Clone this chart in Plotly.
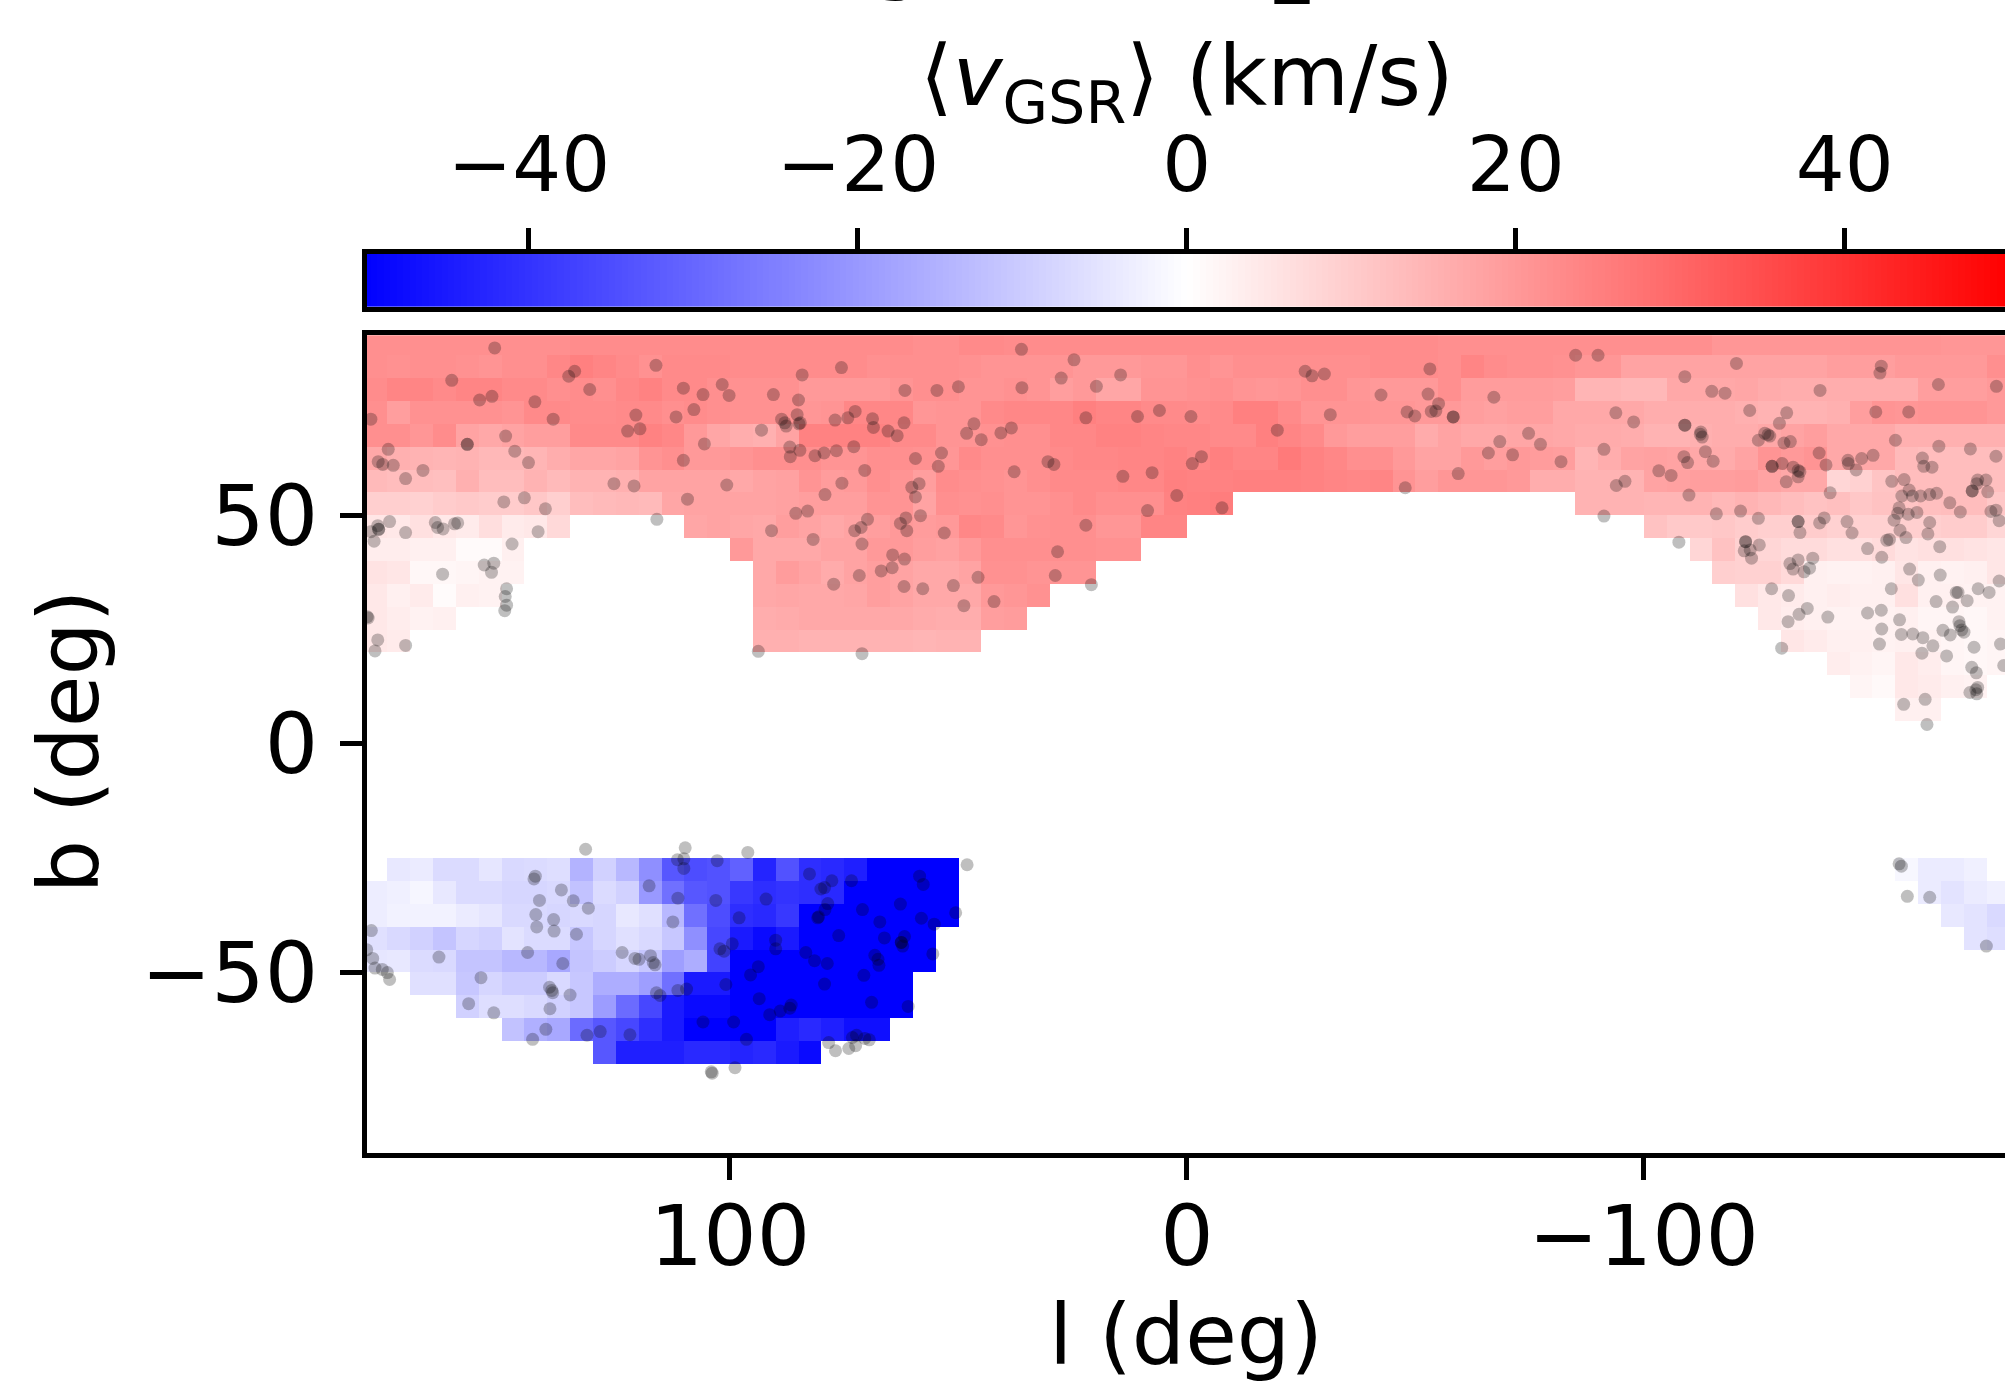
import plotly.graph_objects as go

_ = None
l_edges = [180 - 5 * i for i in range(73)]
b_edges = [-90 + 5 * i for i in range(37)]

# mean v_GSR per 5x5 deg cell; columns run from l=180 down to l=-180
r_p85 = [22,22,22,22,22,22,22,22,22,22.5,22.5,22.5,22.5,22.5,22.5,22.5,22.5,22.5,22.5,22.5,22.5,22.5,22.5,22.5,22,22,23,23,22.5,22.5,22.5,22.5,22.5,22.5,22.5,22.5,22.5,22.5,22.5,22.5,22.5,22.5,22.5,22.5,22.5,22.5,22.5,22,22,22,22,22,22,22,22,22,22,22,22,20.5,20.5,20.5,20.5,20.5,20.5,21,21,21,21,20.5,20.5,20.5]
r_p80 = [22,21.5,22,22,21.5,21,22,22,23.5,25,24,23,21.5,23,23,23,22.5,22.5,22.5,22.5,22.5,22.5,21.8,22,22,22,21.5,21,21,21,21,20,20,20,20.5,20.5,22,21,22,22,22,22,22,22,22.5,22.5,22.5,22,24,22.5,22,22,21.5,20.5,20.5,18,18,18,18,18,18,18,18,18,19,19,19,20,20,20,20,22]
r_p75 = [22.5,24,24,23,24,24,23,23,22,22.5,22,23.5,24.5,23,23,22,21.5,21.5,21.5,20,20,20,20,21,22,22,21,21,21.5,21,19,20,17.5,17.5,21,21,21.5,22,21,20.5,21,22,22,20.5,20,20,20,22,19.5,19.5,19.5,19.5,19,14.5,14.5,14,14,17,17,17,17.5,16.5,16,16,16,16,16,16,19,19,19,20]
r_p70 = [22,19,21.5,21.5,21.5,21.5,21,23,23,22.5,22.5,23,23,22,22.5,22,21.5,21.5,21.5,20.5,21,23.5,23.5,23.5,20.5,21,21,23,23.5,23.5,23.5,25,24,24,23,23,22.5,23,25,25,23,21,21,21,20.5,20.5,20,20,19,18.5,19,19,17,17,17,17,16,16,16,16,15.5,15,15,15,15.5,19,21,20.5,21,21,21,20]
r_p65 = [22,22,20.5,22.5,18,17,18,19,19,23,23,23,24.5,23.5,20,17.5,16,15.5,18,24.5,24.5,24.5,24.5,23,23,21,21,21.5,22,22,23.5,23.5,24.5,24.5,24,23.5,23.5,23,23,25,24,23,20,19,19,19,16.5,18,17,17,17.5,17.5,17,16.5,16.5,16,15,15,15.5,16,16,17,18,19,17,17,17,15.5,15.5,15.5,15.5,15.5]
r_p60 = [17,15.5,15,14.5,15,14,14,14.5,16,17.5,17.5,18,21,22,20,20,21,22,22,22,21,21,22,22,21.5,20.5,23,22,22,22,23,23.5,23.5,24,24,24.5,23.5,25,24,24,26,24.5,23.5,22,22,20,18,18,20,19,20,19.5,19,14.5,16,18,18.5,18,17,16.5,18,21,20,21,17,17,17,13.5,13,13,13,13]
r_p55 = [13.5,13,13,12.5,15.5,13,13,15,13.5,15,15,15.5,18,18,18,18,17,18,18.5,21,19.5,20,22,21,19,22.5,22,21.5,21,22,23,23,23,23.5,23.5,25,24.5,24.5,25,25,25,24.5,24,23.5,24,21,19,20.5,20.5,20.5,20,16,16,15,15,15,18,18.5,19,19,19.5,18,17,17,8,9,11.5,13,13,13,13,12.5]
r_p50 = [9.5,9.5,9,10,10.5,10,10,11,9.5,13,13.5,14,13.5,17.5,18,18,18,18,18.5,19,19,19,21,21,18,22,21.5,22,21,21,22,23,22,22,22,24.5,25,25.5,_,_,_,_,_,_,_,_,_,_,_,_,_,_,_,15,15,15,14.5,14.5,15,14,15,14,13,12,12.5,11,12,11.5,12.5,13,13,11]
r_p45 = [5,4.5,6,4.5,4,6.5,4,4.5,7.5,_,_,_,_,_,17.5,18,17.5,17,19,18,17,18,19,20,19.5,20,23.5,23,20.5,21.5,22,22,20.5,20.5,24,24,_,_,_,_,_,_,_,_,_,_,_,_,_,_,_,_,_,_,_,_,12,10.5,10.5,11,10,9.5,9.5,10,9,9,9,9.5,9.5,10,10,8]
r_p40 = [3.5,3.5,3,3,1,1,3,_,_,_,_,_,_,_,_,_,20,17,17,17,18,18,20,20,19,18.5,20,22,22,22,22,22,21.5,21.5,_,_,_,_,_,_,_,_,_,_,_,_,_,_,_,_,_,_,_,_,_,_,_,_,8,12,9,8,7,7,6,6,7,5.5,6,6,5.5,5]
r_p35 = [5.5,5,1.5,1.5,2,2.5,2.5,_,_,_,_,_,_,_,_,_,_,17,19.5,18,16.5,18,19,18,17,17,18,21.5,21.5,21,21,21,_,_,_,_,_,_,_,_,_,_,_,_,_,_,_,_,_,_,_,_,_,_,_,_,_,_,_,9.5,9,9,7.5,3,2.5,2.5,3,5,3,2.5,3,5]
r_p30 = [4.5,3,4,0.8,3,2.5,_,_,_,_,_,_,_,_,_,_,_,17,17.5,17,17,17.5,19,18,17,17,17,20,20.5,21.5,_,_,_,_,_,_,_,_,_,_,_,_,_,_,_,_,_,_,_,_,_,_,_,_,_,_,_,_,_,_,6,4.5,4,3,3.5,3,3,6,3,3,2.5,2.5]
r_p25 = [4.5,3.5,2.5,3,_,_,_,_,_,_,_,_,_,_,_,_,_,16,16.5,17,17,17,17,17,16.5,16,16,19,19.5,_,_,_,_,_,_,_,_,_,_,_,_,_,_,_,_,_,_,_,_,_,_,_,_,_,_,_,_,_,_,_,_,4.5,3.5,3,2.5,2.5,2.5,3,2,2,1.5,2.5]
r_p20 = [4.5,4,_,_,_,_,_,_,_,_,_,_,_,_,_,_,_,15.5,15.5,15,15,15,15,15,14.5,15,15,_,_,_,_,_,_,_,_,_,_,_,_,_,_,_,_,_,_,_,_,_,_,_,_,_,_,_,_,_,_,_,_,_,_,_,5,4,3,3,2.5,3,2.5,2,1.5,2]
r_p15 = [_]*64 + [3.5,2.5,2,4.5,3.5,2,1.5,2]
r_p10 = [_]*65 + [2,1.2,4.5,4,3,2.5,_]
r_p05 = [_]*67 + [3,3,_,_,_]
r_m30 = [_,-4.5,-4,-7,-7,-5,-7.5,-7,-6.5,-15,-9,-14,-22,-33,-35,-34,-31,-43,-34,-41,-42,-44,-50,-50,-50,-50]+[_]*41+[-1.5,-4,-4,-3,_]
r_m35 = [-3.5,-3,-1.8,-4.5,-7,-7,-8,-8,-7.5,-12,-7,-9,-20,-28,-33,-34,-39,-41,-40,-41,-42,-50,-50,-50,-50,-50]+[_]*42+[-4,-5.5,-4,-3]
r_m40 = [-3.5,-2.5,-2.5,-2.5,-4,-5,-7.5,-7.5,-8,-7.5,-8,-4.5,-6,-14,-28,-35,-41,-42,-39,-50,-50,-50,-50,-50,-50,-50]+[_]*43+[-4.5,-5.5,-7.5]
r_m45 = [-6,-7.5,-9,-11.5,-8,-9,-5.5,-7,-7,-11,-8,-6,-7.5,-11,-22,-36,-45,-48,-45,-50,-50,-50,-50,-50,-50]+[_]*45+[-5.5,-6.5]
r_m50 = [-5,-4.5,-7,-7.5,-11.5,-11.5,-14,-14,-17,-11.5,-10,-8,-11,-19,-16,-37,-50,-50,-50,-50,-50,-50,-50,-50,-50]+[_]*47
r_m55 = [_,_,-6,-6,-11,-8,-10,-10,-7.5,-11,-16,-16,-19,-28,-45,-45,-50,-50,-50,-50,-50,-50,-50,-50]+[_]*48
r_m60 = [_,_,_,_,-9,-6.5,-6.5,-7.5,-9,-11,-19.5,-29,-36,-45,-48,-48,-50,-50,-50,-50,-50,-50,-50,-50]+[_]*48
r_m65 = [_,_,_,_,_,_,-12,-15.5,-17,-29,-33,-36,-41,-45,-50,-50,-50,-50,-44,-42,-44,-47,-47]+[_]*49
r_m70 = [_]*10 + [-33,-44,-44,-44,-42,-42,-43,-42,-45,-48] + [_]*52
r_gap = [_]*72

z_rows = [r_gap, r_gap, r_gap, r_gap, r_m70, r_m65, r_m60, r_m55, r_m50, r_m45, r_m40, r_m35, r_m30,
          r_gap, r_gap, r_gap, r_gap, r_gap, r_gap,
          r_p05, r_p10, r_p15, r_p20, r_p25, r_p30, r_p35, r_p40, r_p45, r_p50, r_p55, r_p60, r_p65, r_p70, r_p75, r_p80, r_p85]

star_l = [151.5,116.2,134.0,135.3,160.9,130.7,110.2,105.9,101.7,100.2,90.5,84.2,75.6,85.0,152.1,154.8,142.7,107.9,120.6,111.8,85.3,72.6,74.2,77.0,68.8,178.6,138.7,88.7,87.7,88.0,84.9,84.6,119.7,122.4,93.1,68.6,65.4,63.4,149.1,157.5,157.5,105.6,174.8,147.1,86.9,84.7,86.8,81.4,79.4,76.7,72.9,110.2,177.0,176.0,173.7,144.1,167.2,70.5,171.0,125.4,121.0,100.7,75.5,79.2,145.0,149.5,109.3,140.4,85.6,83.0,69.9,174.5,177.1,176.9,176.9,178.6,171.0,164.5,164.0,162.8,160.3,159.6,116.0,142.0,90.9,72.7,71.3,81.8,177.9,147.7,71.1,64.4,153.8,151.7,152.2,162.9,66.9,64.5,71.7,77.3,148.9,149.2,148.9,149.3,179.4,179.2,177.1,171.0,177.7,93.8,71.1,
36.2,24.7,14.5,27.5,19.8,36.1,50.0,54.7,61.7,-25.9,-27.4,-30.1,-53.2,-42.5,-52.8,-55.1,-48.2,-49.9,-53.5,-54.5,-58.3,-58.3,6.0,10.8,-0.9,22.1,-31.4,61.9,46.6,48.2,45.0,40.7,38.4,-19.8,53.7,59.4,54.4,-3.2,-1.2,30.4,29.1,37.8,7.6,14.0,-59.4,58.6,60.2,59.4,2.2,-47.8,8.6,-7.7,58.3,61.5,62.7,61.3,53.1,22.1,28.3,61.8,45.7,28.8,51.1,57.8,61.9,20.9,42.2,48.8,
-85.1,-90.0,-120.3,-109.0,-152.0,-151.7,-164.5,-177.2,-67.2,-114.9,-117.8,-138.6,-93.9,-97.8,-123.2,-131.3,-129.7,-150.8,-158.0,-109.0,-109.0,-112.5,-112.8,-112.4,-74.8,-68.5,-77.4,-66.0,-71.3,-81.9,-91.3,-126.5,-127.6,-127.2,-125.1,-130.7,-132.1,-155.1,-164.6,-171.5,-177.1,-113.5,-115.2,-108.8,-109.6,-138.4,-139.9,-144.7,-144.8,-147.7,-150.2,-161.0,-161.3,-163.1,-146.5,-130.3,-128.1,-128.1,-132.7,-133.8,-134.2,-133.8,-131.2,-103.3,-106.0,-95.9,-94.0,-154.3,-157.0,-173.1,-174.9,-171.9,-171.9,-172.9,-175.3,-109.9,-140.8,-158.1,-156.5,-158.8,-160.6,-162.6,-164.1,-167.0,-169.3,-155.9,-155.6,-157.9,-159.8,-154.8,-162.6,-176.0,-177.1,-177.8,-115.9,-121.2,-125.1,-91.3,-133.8,-133.8,-134.2,-138.5,-139.5,-144.5,-145.6,-156.1,-157.4,-162.2,-164.8,-107.7,-122.3,-122.3,-125.3,-123.3,-122.0,-123.6,-153.8,-153.2,-149.0,-152.1,-133.8,-132.0,-137.0,-132.7,-135.1,-136.3,-158.2,-160.1,-164.9,-128.0,-131.7,-154.2,-177.8,-173.2,-175.6,-168.4,-168.8,-170.8,-164.0,-167.6,-135.8,-134.0,-131.6,-140.3,-149.0,-152.0,-156.0,-152.1,-165.5,-167.1,-169.0,-169.2,-169.6,-170.1,-156.4,-158.9,-161.1,-151.6,-163.3,-172.3,-178.1,-130.2,-160.9,-166.3,-178.8,-171.8,-172.8,-156.9,-161.6,-173.1,-172.7,-171.4,-172.9,-162.0,
131.6,109.8,96.1,111.5,110.1,110.1,102.8,48.1,82.6,142.6,142.9,77.7,73.4,58.5,57.7,117.7,136.9,79.3,80.1,92.1,141.7,134.3,111.4,103.1,131.0,78.6,79.2,62.7,71.0,142.5,138.6,98.0,80.6,80.8,67.2,58.1,50.6,55.3,112.5,142.3,178.5,138.5,133.6,76.2,66.2,61.8,90.0,62.5,62.5,62.2,99.5,102.2,101.3,90.0,179.5,144.3,123.6,178.2,163.7,120.8,119.9,117.4,116.8,116.4,83.4,81.5,78.7,136.6,68.3,67.6,67.4,55.6,93.8,177.7,176.1,175.0,174.5,154.5,95.5,70.7,139.5,139.0,138.8,100.9,79.3,116.1,115.3,111.4,109.5,135.0,93.6,69.0,157.2,61.0,139.4,151.7,91.3,89.0,86.6,86.9,105.9,99.2,140.3,128.4,131.3,121.9,96.4,143.2,78.4,76.9,74.0,72.5,69.5,72.3,73.2,70.5,98.9,104.1,103.9,
-155.9,-156.4,-157.7,-162.6,-175.0]

star_b = [86.6,82.8,81.5,80.4,79.5,77.5,77.8,76.4,78.6,76.2,76.4,80.7,82.3,75.2,76.0,75.2,74.8,73.1,71.9,71.5,72.0,72.7,71.3,70.8,71.1,71.0,71.0,71.0,69.5,70.2,70.0,70.2,68.9,68.4,68.6,69.2,68.4,67.4,67.3,65.5,65.5,65.6,64.4,64.0,64.9,64.2,62.8,63.0,63.6,64.1,65.0,62.0,61.7,61.1,60.9,61.5,59.8,59.8,58.0,56.9,56.4,56.6,57.0,54.5,53.8,52.9,53.5,51.4,50.4,50.9,49.1,48.6,47.7,46.9,46.9,46.4,46.2,48.4,47.3,47.0,48.1,48.3,49.1,46.4,46.6,46.6,47.3,44.7,44.3,43.7,43.7,41.3,39.1,39.5,37.5,37.1,37.8,38.5,36.8,34.9,33.9,32.2,30.3,29.1,27.8,27.5,22.7,21.5,20.3,20.2,19.7,
86.3,84.0,80.7,80.0,78.2,77.9,78.1,77.3,77.3,81.5,80.5,80.9,82.0,76.3,76.5,74.4,72.6,71.7,72.7,72.8,71.5,71.5,72.9,71.6,71.6,71.3,72.0,70.2,70.0,67.9,66.5,68.0,69.1,68.6,63.6,62.4,60.7,62.8,61.3,61.7,61.1,59.5,59.3,58.5,59.1,56.9,56.1,54.0,54.3,56.0,51.0,51.6,49.9,49.4,48.2,46.6,46.1,47.8,42.0,40.4,36.4,36.8,34.6,33.9,34.4,34.8,31.1,30.2,
85.0,85.0,83.2,80.3,82.6,81.1,78.6,78.2,75.8,77.1,76.7,77.3,72.4,70.4,72.9,72.4,70.1,72.6,72.6,69.7,69.7,68.2,67.1,67.7,67.9,66.1,65.5,63.6,63.2,61.7,64.4,67.9,67.3,67.6,66.4,65.8,66.1,66.4,65.1,64.5,62.9,63.9,61.8,62.8,61.5,63.6,61.0,62.0,61.3,62.4,63.1,62.5,60.7,60.5,59.9,61.3,60.7,60.7,60.5,59.8,59.5,58.4,57.3,59.7,58.7,57.4,56.5,57.4,57.8,57.7,57.7,55.3,55.3,56.9,55.1,54.4,54.9,55.5,54.2,54.2,54.2,54.5,54.8,52.7,50.7,51.6,50.4,50.2,50.6,48.9,48.4,50.8,51.1,48.8,50.3,50.9,49.3,49.8,48.6,48.6,46.2,48.3,49.4,48.6,46.1,46.7,45.1,45.9,43.1,44.1,44.2,44.2,43.5,42.4,42.2,40.6,44.7,44.5,42.7,40.8,40.2,39.4,40.6,38.2,37.6,38.4,38.2,35.8,36.9,33.9,32.4,33.9,35.6,33.9,33.1,33.1,33.1,31.3,31.1,29.9,29.6,28.3,26.7,27.7,28.6,29.2,27.1,25.1,24.8,23.8,26.7,25.8,24.9,24.4,23.9,24.0,23.2,21.8,21.4,21.1,21.8,20.9,19.8,19.2,17.1,16.7,15.5,8.6,9.7,12.3,11.8,11.2,10.9,4.2,
-23.1,-22.8,-23.8,-25.4,-25.2,-27.3,-25.6,-26.5,-28.5,-29.0,-29.6,-30.0,-30.0,-29.0,-30.8,-31.1,-32.0,-31.5,-31.8,-34.0,-34.3,-34.4,-33.8,-34.3,-36.0,-35.0,-36.3,-35.1,-36.3,-37.4,-38.5,-38.1,-37.9,-38.1,-39.0,-38.2,-37.0,-39.5,-39.0,-40.1,-40.9,-41.0,-41.7,-42.0,-42.5,-42.2,-43.0,-43.5,-43.5,-44.3,-43.8,-44.9,-45.4,-44.9,-45.1,-45.7,-45.7,-47.0,-46.7,-47.0,-47.2,-46.4,-47.9,-48.4,-45.7,-47.5,-48.1,-48.1,-46.3,-47.2,-48.5,-46.0,-48.8,-49.1,-49.4,-50.1,-51.6,-51.2,-50.6,-50.7,-53.3,-54.0,-54.5,-52.7,-52.6,-54.5,-55.1,-54.0,-53.7,-55.0,-55.8,-56.6,-56.9,-57.5,-58.0,-58.9,-59.3,-58.5,-57.2,-57.9,-60.9,-60.9,-62.5,-63.0,-63.8,-63.7,-64.7,-64.7,-65.4,-67.2,-66.7,-66.1,-64.8,-63.8,-64.3,-64.5,-70.9,-71.8,-72.1,
-26.3,-26.8,-33.4,-33.6,-44.3]

x_ticks = [100, 0, -100]
y_ticks = [50, 0, -50]
cbar_ticks = [-40, -20, 0, 20, 40]
cbar_edges = [-50 + i * 100 / 256 for i in range(257)]
cbar_vals = [-50 + (i + 0.5) * 100 / 256 for i in range(256)]
FONT = "DejaVu Sans"
INK = "#000000"
BWR = [[0, "#0000ff"], [0.5, "#ffffff"], [1, "#ff0000"]]

n = min(len(star_l), len(star_b))

fig = go.Figure()
fig.add_trace(go.Heatmap(x=l_edges, y=b_edges, z=z_rows, colorscale=BWR, zmin=-50, zmax=50,
                         hoverongaps=False, showscale=False, xaxis="x", yaxis="y"))
fig.add_trace(go.Scatter(x=star_l[:n], y=star_b[:n], mode="markers",
                         marker=dict(size=13, color="rgba(0,0,0,0.25)", line=dict(width=0)),
                         showlegend=False, xaxis="x", yaxis="y"))
fig.add_trace(go.Heatmap(x=cbar_edges, y=[0, 1], z=[cbar_vals], colorscale=BWR, zmin=-50, zmax=50,
                         showscale=False, xaxis="x2", yaxis="y2"))

axis_font = dict(family=FONT, size=84, color=INK)
cbar_font = dict(family=FONT, size=77, color=INK)
line = dict(showgrid=False, zeroline=False, showline=True, linecolor=INK, linewidth=5,
            ticks="outside", tickwidth=4.5, tickcolor=INK, automargin=False)
H = 1153.5
fig.update_layout(
    width=2005, height=1394, autosize=False,
    margin=dict(l=366.5, r=0, t=0, b=240.5, autoexpand=False),
    paper_bgcolor="white", plot_bgcolor="white",
    font=dict(family=FONT, color=INK),
    showlegend=False,
    xaxis=dict(domain=[0, 1], anchor="y", range=[179.45, -179.08], tickmode="array", tickvals=x_ticks,
               mirror=True, ticklen=22, ticklabelstandoff=-16, tickfont=axis_font,
               title=dict(text="l (deg)", font=axis_font, standoff=23), **line),
    yaxis=dict(domain=[0, (H - 335.5) / H], anchor="x", range=[-89.57, 89.35], tickmode="array", tickvals=y_ticks,
               mirror=False, ticklen=22, ticklabelstandoff=5, tickfont=axis_font, **line),
    xaxis2=dict(domain=[0, 1], anchor="y2", side="top", range=[-49.85, 49.75], tickmode="array", tickvals=cbar_ticks,
                mirror=True, ticklen=21, ticklabelstandoff=6, tickfont=cbar_font, **line),
    yaxis2=dict(domain=[(H - 307) / H, (H - 254) / H], anchor="x2", range=[0, 1], showticklabels=False,
                showgrid=False, zeroline=False, showline=True, linecolor=INK, linewidth=5, ticks=""),
    annotations=[
        dict(text="⟨<i>v</i><sub>GSR</sub>⟩ (km/s)", xref="paper", yref="paper", x=(1186.6 - 366.5) / 1638.5, y=(H - 82) / H,
             xanchor="center", yanchor="middle", showarrow=False, font=axis_font),
        dict(text="b (deg)", textangle=-90, xref="paper", yref="paper", x=(68 - 366.5) / 1638.5, y=(H - 742) / H,
             xanchor="center", yanchor="middle", showarrow=False, font=axis_font),
        dict(text="g", xref="paper", yref="paper", x=(897 - 366.5) / 1638.5, y=(H - 6) / H, xanchor="center", yanchor="bottom",
             showarrow=False, font=dict(family=FONT, size=100, color=INK)),
        dict(text="_", xref="paper", yref="paper", x=(1292 - 366.5) / 1638.5, y=(H - 6) / H, xanchor="center", yanchor="bottom",
             showarrow=False, font=dict(family=FONT, size=68, color=INK)),
    ],
)
fig.write_html("out.html", config=dict(displayModeBar=False),
               post_script="document.body.style.margin='0';document.documentElement.style.overflow='hidden';document.body.style.overflow='hidden';")
